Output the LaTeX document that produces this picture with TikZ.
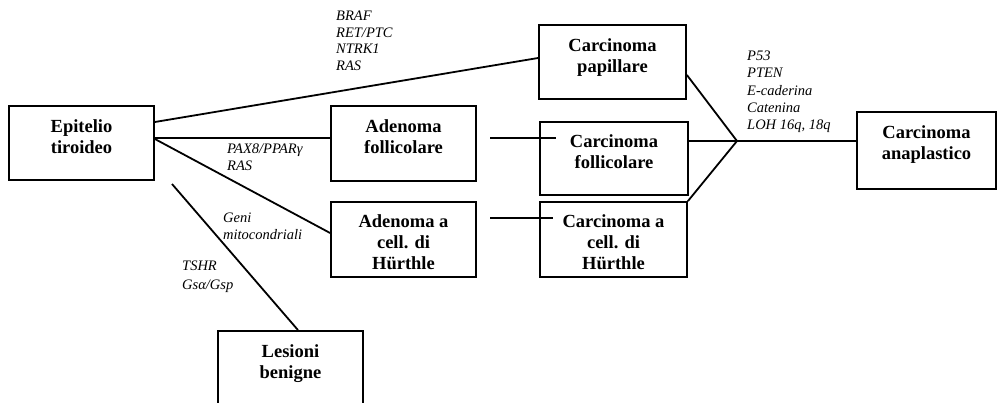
\documentclass[tikz,border=0pt]{standalone}
\usepackage{fontspec}
\setmainfont{Liberation Serif}
\begin{document}
\begin{tikzpicture}[x=1pt,y=-1pt,
  box/.style={draw, line width=1.8pt, inner sep=0pt},
  ttl/.style={font=\fontsize{18.5}{21}\selectfont\bfseries, align=center, anchor=north, inner sep=0pt},
  lab/.style={font=\fontsize{14.5}{16.5}\selectfont\itshape, align=left, anchor=north west, inner sep=0pt},
  conn/.style={line width=1.8pt}]
\useasboundingbox (0,0) rectangle (998,403);
\clip (0,0) rectangle (998,403);
% boxes
\node[box, minimum width=145pt, minimum height=74pt] (epi) at (81.5,143) {};
\node[box, minimum width=147pt, minimum height=74pt] (pap) at (612.5,62) {};
\node[box, minimum width=145pt, minimum height=75pt] (adf) at (403.5,143.5) {};
\node[box, minimum width=145pt, minimum height=75pt] (adh) at (403.5,239.5) {};
\node[box, minimum width=148pt, minimum height=73pt] (caf) at (614,158.5) {};
\node[box, minimum width=147pt, minimum height=75pt] (cah) at (613.5,239.5) {};
\node[box, minimum width=139pt, minimum height=77pt] (ana) at (926.5,150.5) {};
\node[box, minimum width=145pt, minimum height=80pt] (les) at (290.5,371) {};
% box texts
\node[ttl] (tepi) at ([yshift=-14pt]epi.north) {Epitelio\\tiroideo};
\node[ttl] (tpap) at ([yshift=-14pt]pap.north) {Carcinoma\\papillare};
\node[ttl] (tadf) at ([yshift=-14pt]adf.north) {Adenoma\\follicolare};
\node[ttl] (tadh) at ([yshift=-13pt]adh.north) {Adenoma a\\cell. di\\Hürthle};
\node[ttl] (tcaf) at ([yshift=-13pt]caf.north) {Carcinoma\\follicolare};
\node[ttl] (tcah) at ([yshift=-13pt]cah.north) {Carcinoma a\\cell. di\\Hürthle};
\node[ttl] (tana) at ([yshift=-14pt]ana.north) {Carcinoma\\anaplastico};
\node[ttl] (tles) at ([yshift=-14pt]les.north) {Lesioni\\benigne};
% labels
\node[lab] (l1) at (336,11) {BRAF\\RET/PTC\\NTRK1\\RAS};
\node[lab] (l2) at (227,144) {PAX8/PPARγ\\RAS};
\node[lab] (l3) at (223,213) {Geni\\mitocondriali};
\node[lab, font=\fontsize{14.5}{18.5}\selectfont\itshape] (l4) at (182,261) {TSHR\\Gsα/Gsp};
\node[lab, font=\fontsize{14.5}{17.2}\selectfont\itshape] (l5) at (747,51) {P53\\PTEN\\E-caderina\\Catenina\\LOH 16q, 18q};
% connectors
\coordinate (J) at (737,141);
\coordinate (lstart) at (172,184);
\coordinate (f1) at (490,138);
\coordinate (f2) at (556,138);
\coordinate (h1) at (490,218);
\coordinate (h2) at (553,218);
\draw[conn] ([yshift=21pt]epi.east) -- ([yshift=4pt]pap.west);
\draw[conn] ([yshift=5pt]epi.east) -- ([yshift=5pt]epi.east -| adf.west);
\draw[conn] ([yshift=4pt]epi.east) -- ([yshift=6.5pt]adh.west);
\draw[conn] (lstart) -- ([xshift=7.5pt]les.north);
\draw[conn] (f1) -- (f2);
\draw[conn] (h1) -- (h2);
\draw[conn] (J) -- ([yshift=-13pt]pap.east);
\draw[conn] (J) -- (caf.east |- J);
\draw[conn] (J) -- (cah.north east);
\draw[conn] (J) -- (ana.west |- J);
\end{tikzpicture}
\end{document}
